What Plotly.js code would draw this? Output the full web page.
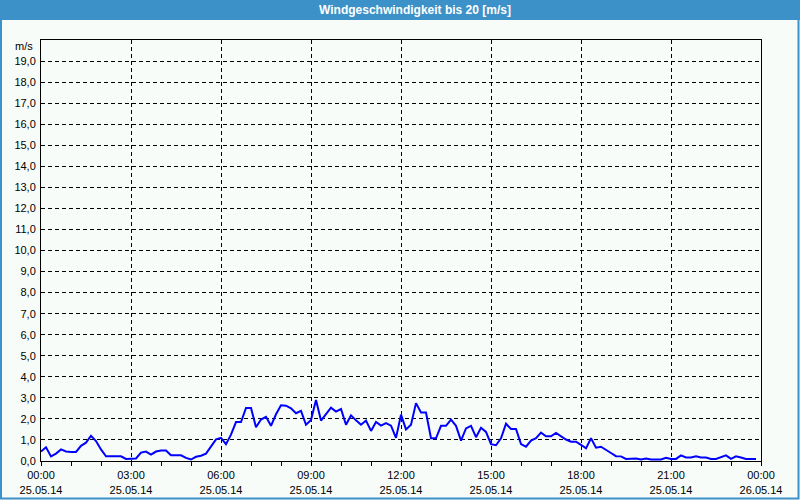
<!DOCTYPE html>
<html>
<head>
<meta charset="utf-8">
<script src="https://cdn.plot.ly/plotly-3.0.1.min.js"></script>
<style>html,body{margin:0;padding:0;background:#f8fcf8;}#chart{width:800px;height:500px;}</style>
</head>
<body>
<div id="chart"></div>
<script>
// Measurement times (10-minute steps) on 25.05.14
var times = [
"00:00","00:10","00:20","00:30","00:40","00:50","01:00","01:10","01:20","01:30","01:40","01:50",
"02:00","02:10","02:20","02:30","02:40","02:50","03:00","03:10","03:20","03:30","03:40","03:50",
"04:00","04:10","04:20","04:30","04:40","04:50","05:00","05:10","05:20","05:30","05:40","05:50",
"06:00","06:10","06:20","06:30","06:40","06:50","07:00","07:10","07:20","07:30","07:40","07:50",
"08:00","08:10","08:20","08:30","08:40","08:50","09:00","09:10","09:20","09:30","09:40","09:50",
"10:00","10:10","10:20","10:30","10:40","10:50","11:00","11:10","11:20","11:30","11:40","11:50",
"12:00","12:10","12:20","12:30","12:40","12:50","13:00","13:10","13:20","13:30","13:40","13:50",
"14:00","14:10","14:20","14:30","14:40","14:50","15:00","15:10","15:20","15:30","15:40","15:50",
"16:00","16:10","16:20","16:30","16:40","16:50","17:00","17:10","17:20","17:30","17:40","17:50",
"18:00","18:10","18:20","18:30","18:40","18:50","19:00","19:10","19:20","19:30","19:40","19:50",
"20:00","20:10","20:20","20:30","20:40","20:50","21:00","21:10","21:20","21:30","21:40","21:50",
"22:00","22:10","22:20","22:30","22:40","22:50","23:00","23:10","23:20","23:30","23:40","23:50"
];
// Wind speed in m/s
var speed = [
0.45,0.65,0.22,0.35,0.55,0.45,0.43,0.43,0.72,0.87,1.20,0.95,
0.55,0.22,0.22,0.22,0.22,0.10,0.10,0.12,0.40,0.45,0.30,0.45,
0.50,0.50,0.27,0.27,0.27,0.15,0.07,0.20,0.25,0.35,0.72,1.03,
1.10,0.80,1.25,1.85,1.85,2.52,2.52,1.60,1.97,2.10,1.67,2.22,
2.65,2.63,2.50,2.27,2.38,1.72,1.95,2.90,1.92,2.22,2.53,2.35,
2.47,1.72,2.17,1.93,1.72,1.92,1.43,1.85,1.68,1.80,1.68,1.10,
2.20,1.50,1.72,2.75,2.30,2.30,1.08,1.08,1.67,1.67,1.97,1.67,
0.97,1.55,1.67,1.13,1.58,1.38,0.80,0.75,1.08,1.77,1.52,1.52,
0.80,0.68,0.97,1.08,1.35,1.17,1.17,1.33,1.18,1.02,0.92,0.92,
0.77,0.60,1.08,0.63,0.68,0.55,0.38,0.23,0.22,0.10,0.12,0.12,
0.07,0.12,0.07,0.07,0.07,0.15,0.10,0.10,0.27,0.17,0.17,0.22,
0.17,0.17,0.10,0.10,0.17,0.27,0.10,0.22,0.17,0.10,0.10,0.10
];
var xTickVals = ["2014-05-25 00:00","2014-05-25 03:00","2014-05-25 06:00","2014-05-25 09:00","2014-05-25 12:00","2014-05-25 15:00","2014-05-25 18:00","2014-05-25 21:00","2014-05-26 00:00"];
var xTickText = ["00:00<br>25.05.14","03:00<br>25.05.14","06:00<br>25.05.14","09:00<br>25.05.14","12:00<br>25.05.14","15:00<br>25.05.14","18:00<br>25.05.14","21:00<br>25.05.14","00:00<br>26.05.14"];
var yTickVals = [0,1,2,3,4,5,6,7,8,9,10,11,12,13,14,15,16,17,18,19];
var titleText = "Windgeschwindigkeit bis 20 [m/s]";
var unitText = "m/s";

var x = times.map(function(t){ return "2014-05-25 " + t; });

var W = 800, H = 500, L = 41, R = 39, T = 40, B = 39;
var pw = W - L - R, ph = H - T - B;
function px(p){ return (p - L) / pw; }
function py(p){ return (H - B - p) / ph; }

var blue = "#3c91c8";
var font = "Liberation Sans, Arial, sans-serif";

var data = [{
  type: "scatter", mode: "lines", x: x, y: speed,
  line: {color: "#0000ff", width: 2}, hoverinfo: "skip"
}];

var layout = {
  width: W, height: H,
  margin: {l: L, r: R, t: T, b: B, pad: 0},
  paper_bgcolor: "#f8fcf8", plot_bgcolor: "#f8fcf8",
  showlegend: false,
  separators: ",.",
  font: {family: font, size: 11, color: "#000"},
  xaxis: {
    type: "date",
    range: ["2014-05-25 00:00", "2014-05-26 00:00"],
    tickmode: "array", tickvals: xTickVals, ticktext: xTickText,
    ticks: "outside", ticklen: 4, tickcolor: "#000", tickwidth: 1,
    minor: {dtick: 3600000, ticks: "outside", ticklen: 4, tickcolor: "#000", showgrid: false},
    showgrid: true, gridcolor: "#000", gridwidth: 1, griddash: "4px,3px",
    showline: true, linecolor: "#000", linewidth: 1, mirror: true,
    zeroline: false, fixedrange: true,
    tickfont: {family: font, size: 11, color: "#000"}
  },
  yaxis: {
    range: [0, 20],
    tickmode: "array", tickvals: yTickVals, tickformat: ".1f",
    ticks: "", showgrid: true, gridcolor: "#000", gridwidth: 1, griddash: "4px,3px",
    showline: true, linecolor: "#000", linewidth: 1, mirror: true,
    zeroline: false, fixedrange: true,
    ticklabelstandoff: 2,
    tickfont: {family: font, size: 11, color: "#000"}
  },
  shapes: [
    {type: "rect", xref: "paper", yref: "paper", x0: px(0), x1: px(800), y0: py(20), y1: py(0),
     fillcolor: blue, line: {width: 0}, layer: "above"},
    {type: "rect", xref: "paper", yref: "paper", x0: px(1), x1: px(798.5), y0: py(498.5), y1: py(1),
     fillcolor: "rgba(0,0,0,0)", line: {color: blue, width: 2}, layer: "above"}
  ],
  annotations: [
    {text: titleText, xref: "paper", yref: "paper", x: px(415), y: py(10), xanchor: "center", yanchor: "middle",
     showarrow: false, font: {family: font, size: 12, color: "#fff", weight: "bold"}},
    {text: unitText, xref: "paper", yref: "paper", x: px(35), y: py(46), xanchor: "right", yanchor: "middle",
     showarrow: false, font: {family: font, size: 11, color: "#000"}}
  ]
};

Plotly.newPlot("chart", data, layout, {displayModeBar: false, staticPlot: true});
</script>
</body>
</html>
